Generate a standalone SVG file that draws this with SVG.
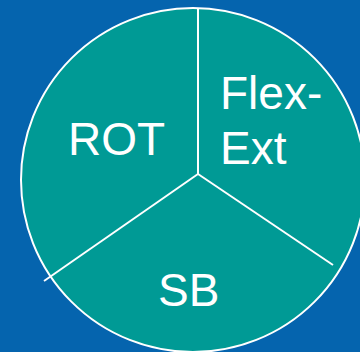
<svg xmlns="http://www.w3.org/2000/svg" width="360" height="352" viewBox="0 0 360 352">
  <style>
    .lbl { font-family: "Liberation Sans", Arial, sans-serif; font-size: 46px; fill: #ffffff; }
    .div { stroke: #ffffff; stroke-width: 2; fill: none; }
  </style>
  <rect width="360" height="352" fill="#0564AE"/>
  <g id="wheel">
    <circle cx="193" cy="180" r="172" fill="#009A95" stroke="#ffffff" stroke-width="2"/>
  </g>
  <g id="connectors">
    <line class="div" x1="198" y1="8" x2="198" y2="174"/>
    <line class="div" x1="198" y1="174" x2="44" y2="281"/>
    <line class="div" x1="198" y1="174" x2="333" y2="265"/>
  </g>
  <g id="rot">
    <text class="lbl" x="68" y="155">ROT</text>
  </g>
  <g id="flex-ext">
    <text class="lbl" x="220" y="109">Flex-</text>
    <text class="lbl" x="220" y="164">Ext</text>
  </g>
  <g id="sb">
    <text class="lbl" x="158" y="306">SB</text>
  </g>
</svg>
